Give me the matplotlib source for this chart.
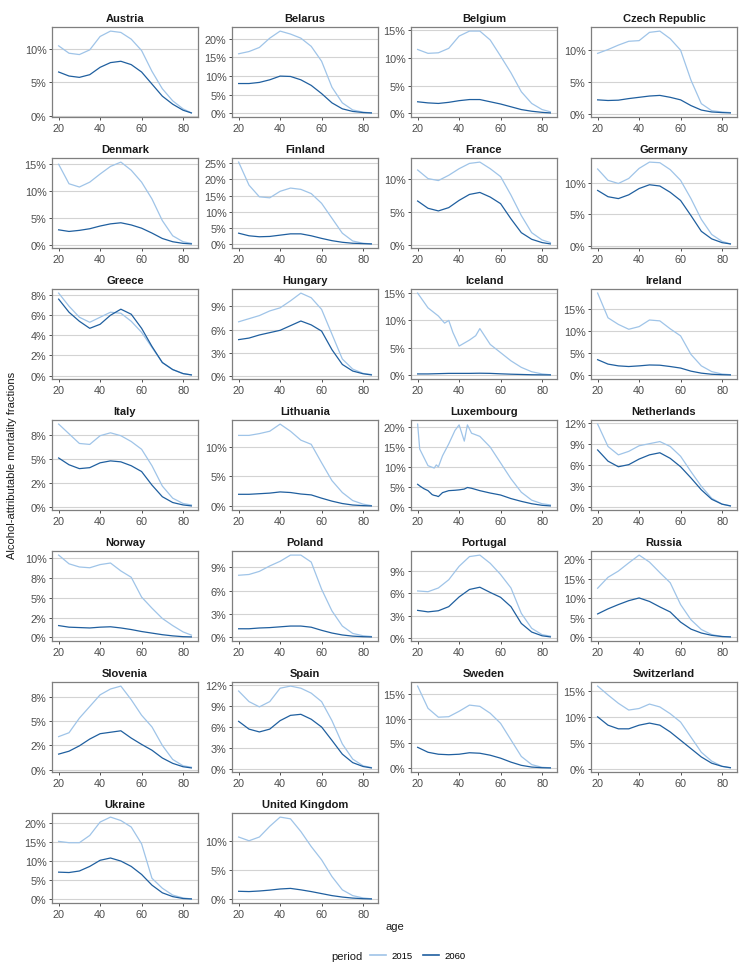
import numpy as np
import matplotlib
matplotlib.use("Agg")
import matplotlib.pyplot as plt
from matplotlib.lines import Line2D
from matplotlib.ticker import FuncFormatter

plt.rcParams['font.family'] = ['Liberation Sans', 'DejaVu Sans']

# age grid shared by most countries
ages = [20, 25, 30, 35, 40, 45, 50, 55, 60, 65, 70, 75, 80, 84]

countries = ["Austria", "Belarus", "Belgium", "Czech Republic", "Denmark", "Finland",
             "France", "Germany", "Greece", "Hungary", "Iceland", "Ireland", "Italy",
             "Lithuania", "Luxembourg", "Netherlands", "Norway", "Poland", "Portugal",
             "Russia", "Slovenia", "Spain", "Sweden", "Switzerland", "Ukraine",
             "United Kingdom"]

# countries with bumpy curves get their own age grid
ages_iceland = [20, 25, 30, 33, 35, 37, 40, 45, 48, 50, 55, 60, 65, 70, 75, 80, 84]
ages_luxembourg = [20, 21, 23, 25, 27, 28, 29, 30, 32, 35, 38, 40, 42.5, 44, 46, 50,
                   55, 60, 65, 70, 75, 80, 84]

# mortality fractions in percent, period 2015
aaf_2015 = {
    "Austria": [10.4, 9.3, 9.1, 9.8, 11.8, 12.6, 12.4, 11.4, 9.7, 6.6, 4.0, 2.2, 1.0, 0.4],
    "Belarus": [16.0, 16.6, 17.7, 20.2, 22.1, 21.3, 20.2, 18.0, 14.0, 7.0, 2.8, 0.9, 0.3, 0.1],
    "Belgium": [11.5, 10.8, 10.9, 11.7, 13.9, 14.8, 14.8, 13.2, 10.3, 7.3, 3.9, 1.8, 0.7, 0.3],
    "Czech Republic": [9.5, 10.1, 10.8, 11.4, 11.5, 12.8, 13.0, 11.8, 10.0, 5.3, 1.6, 0.5, 0.3, 0.2],
    "Denmark": [14.9, 11.3, 10.7, 11.6, 13.1, 14.5, 15.3, 13.8, 11.6, 8.5, 4.5, 1.7, 0.6, 0.3],
    "Finland": [25.3, 18.2, 14.6, 14.3, 16.3, 17.3, 16.9, 15.6, 12.6, 8.0, 3.4, 1.0, 0.3, 0.1],
    "France": [11.4, 10.1, 9.8, 10.6, 11.6, 12.4, 12.6, 11.6, 10.4, 7.6, 4.5, 1.9, 0.8, 0.4],
    "Germany": [12.2, 10.4, 9.9, 10.7, 12.3, 13.3, 13.2, 12.1, 10.4, 7.5, 4.2, 1.8, 0.7, 0.3],
    "Greece": [8.2, 6.9, 5.8, 5.3, 5.8, 6.3, 6.2, 5.4, 4.3, 2.8, 1.3, 0.6, 0.2, 0.07],
    "Hungary": [7.0, 7.4, 7.8, 8.4, 8.8, 9.7, 10.7, 10.1, 8.6, 5.4, 2.2, 0.9, 0.35, 0.2],
    "Iceland": [15.0, 12.3, 10.8, 9.5, 10.0, 7.8, 5.3, 6.4, 7.2, 8.5, 5.6, 4.1, 2.6, 1.4,
                0.6, 0.2, 0.05],
    "Ireland": [18.6, 13.0, 11.5, 10.4, 11.0, 12.5, 12.3, 10.5, 8.9, 4.7, 2.1, 0.8, 0.25, 0.1],
    "Italy": [8.6, 7.6, 6.6, 6.5, 7.4, 7.7, 7.4, 6.8, 6.0, 4.3, 2.2, 0.95, 0.4, 0.25],
    "Lithuania": [11.9, 11.9, 12.2, 12.6, 13.8, 12.6, 11.1, 10.4, 7.3, 4.3, 2.3, 0.95, 0.35, 0.1],
    "Luxembourg": [20.8, 14.5, 12.4, 10.3, 9.9, 9.7, 10.5, 10.0, 12.8, 15.8, 19.2, 20.6,
                   16.5, 20.6, 18.5, 17.7, 15.0, 11.0, 7.0, 3.6, 1.6, 0.7, 0.4],
    "Netherlands": [11.9, 8.7, 7.5, 8.0, 8.8, 9.1, 9.4, 8.7, 7.3, 5.1, 3.0, 1.3, 0.45, 0.2],
    "Norway": [10.4, 9.3, 8.9, 8.8, 9.2, 9.4, 8.4, 7.6, 5.1, 3.7, 2.4, 1.5, 0.7, 0.3],
    "Poland": [8.0, 8.1, 8.5, 9.2, 9.8, 10.6, 10.6, 9.7, 6.2, 3.4, 1.45, 0.5, 0.2, 0.1],
    "Portugal": [6.3, 6.2, 6.7, 7.8, 9.6, 10.9, 11.1, 10.0, 8.5, 6.7, 3.3, 1.3, 0.45, 0.25],
    "Russia": [12.6, 15.4, 17.0, 19.1, 21.1, 19.3, 16.6, 14.0, 8.4, 4.5, 2.0, 0.7, 0.2, 0.1],
    "Slovenia": [3.4, 3.8, 5.3, 6.5, 7.7, 8.3, 8.6, 7.2, 5.6, 4.4, 2.5, 1.05, 0.4, 0.25],
    "Spain": [11.1, 9.6, 8.85, 9.6, 11.5, 11.8, 11.5, 10.8, 9.6, 6.9, 3.6, 1.45, 0.5, 0.25],
    "Sweden": [16.6, 12.1, 10.3, 10.4, 11.5, 12.75, 12.5, 11.1, 9.05, 5.7, 2.35, 0.7, 0.15, 0.05],
    "Switzerland": [15.9, 14.2, 12.6, 11.3, 11.6, 12.45, 11.9, 10.6, 9.0, 6.1, 3.2, 1.5, 0.5, 0.2],
    "Ukraine": [15.15, 14.8, 14.8, 16.7, 20.2, 21.5, 20.6, 18.9, 14.5, 5.5, 2.9, 1.1, 0.35, 0.1],
    "United Kingdom": [10.75, 10.1, 10.75, 12.6, 14.2, 13.9, 11.7, 9.1, 6.8, 3.9, 1.6, 0.6, 0.2, 0.05],
}

# mortality fractions in percent, period 2060
aaf_2060 = {
    "Austria": [6.5, 5.9, 5.7, 6.1, 7.2, 7.9, 8.1, 7.6, 6.5, 4.7, 2.9, 1.7, 0.8, 0.4],
    "Belarus": [8.0, 8.0, 8.3, 9.0, 10.0, 9.9, 9.0, 7.5, 5.3, 2.8, 1.2, 0.5, 0.2, 0.1],
    "Belgium": [2.1, 1.9, 1.8, 2.0, 2.3, 2.5, 2.5, 2.1, 1.7, 1.2, 0.7, 0.4, 0.2, 0.1],
    "Czech Republic": [2.2, 2.1, 2.15, 2.4, 2.6, 2.8, 2.9, 2.6, 2.2, 1.3, 0.6, 0.3, 0.2, 0.15],
    "Denmark": [2.8, 2.5, 2.7, 3.0, 3.5, 3.9, 4.1, 3.7, 3.1, 2.2, 1.2, 0.6, 0.3, 0.2],
    "Finland": [3.4, 2.6, 2.3, 2.4, 2.8, 3.2, 3.2, 2.6, 1.8, 1.1, 0.6, 0.3, 0.2, 0.1],
    "France": [6.7, 5.6, 5.2, 5.7, 6.8, 7.7, 8.0, 7.3, 6.3, 4.0, 1.9, 0.9, 0.4, 0.2],
    "Germany": [8.8, 7.8, 7.5, 8.1, 9.1, 9.7, 9.5, 8.5, 7.2, 4.8, 2.3, 1.1, 0.5, 0.3],
    "Greece": [7.6, 6.3, 5.4, 4.7, 5.1, 6.0, 6.6, 6.1, 4.7, 2.9, 1.3, 0.6, 0.2, 0.07],
    "Hungary": [4.7, 4.9, 5.3, 5.6, 5.9, 6.5, 7.1, 6.6, 5.8, 3.4, 1.5, 0.65, 0.3, 0.15],
    "Iceland": [0.2, 0.2, 0.25, 0.28, 0.3, 0.3, 0.3, 0.3, 0.32, 0.33, 0.3, 0.22, 0.15, 0.1,
                0.05, 0.03, 0.02],
    "Ireland": [3.5, 2.5, 2.1, 1.95, 2.1, 2.3, 2.25, 1.95, 1.6, 0.9, 0.45, 0.2, 0.1, 0.05],
    "Italy": [5.1, 4.4, 4.0, 4.1, 4.6, 4.8, 4.7, 4.3, 3.7, 2.3, 1.1, 0.5, 0.25, 0.15],
    "Lithuania": [2.0, 2.0, 2.1, 2.2, 2.4, 2.3, 2.05, 1.9, 1.35, 0.85, 0.45, 0.2, 0.1, 0.05],
    "Luxembourg": [5.6, 5.2, 4.5, 4.0, 3.0, 2.8, 2.7, 2.5, 3.5, 4.0, 4.1, 4.2, 4.4, 4.8,
                   4.6, 4.0, 3.4, 2.9, 2.0, 1.3, 0.7, 0.3, 0.15],
    "Netherlands": [8.2, 6.6, 5.8, 6.1, 6.9, 7.5, 7.8, 7.0, 5.8, 4.2, 2.5, 1.15, 0.45, 0.2],
    "Norway": [1.5, 1.3, 1.25, 1.2, 1.3, 1.35, 1.2, 1.0, 0.75, 0.55, 0.35, 0.2, 0.1, 0.07],
    "Poland": [1.1, 1.1, 1.2, 1.25, 1.35, 1.45, 1.45, 1.3, 0.9, 0.55, 0.3, 0.15, 0.08, 0.05],
    "Portugal": [3.7, 3.5, 3.65, 4.2, 5.5, 6.5, 6.8, 6.1, 5.45, 4.2, 1.95, 0.8, 0.3, 0.15],
    "Russia": [6.0, 7.3, 8.4, 9.4, 10.1, 9.2, 7.8, 6.5, 3.9, 2.1, 1.1, 0.5, 0.2, 0.1],
    "Slovenia": [1.6, 1.9, 2.45, 3.15, 3.7, 3.85, 4.0, 3.25, 2.6, 2.0, 1.2, 0.65, 0.3, 0.18],
    "Spain": [6.8, 5.7, 5.3, 5.7, 6.9, 7.65, 7.8, 7.1, 6.0, 4.1, 2.15, 0.95, 0.4, 0.2],
    "Sweden": [4.2, 3.2, 2.8, 2.7, 2.8, 3.1, 3.0, 2.6, 2.0, 1.2, 0.55, 0.2, 0.07, 0.03],
    "Switzerland": [10.0, 8.4, 7.7, 7.7, 8.4, 8.8, 8.4, 7.1, 5.5, 3.9, 2.3, 1.1, 0.5, 0.25],
    "Ukraine": [7.1, 7.0, 7.4, 8.6, 10.2, 10.8, 10.0, 8.6, 6.5, 3.7, 1.7, 0.7, 0.2, 0.1],
    "United Kingdom": [1.35, 1.3, 1.4, 1.55, 1.75, 1.85, 1.6, 1.3, 0.95, 0.6, 0.35, 0.17, 0.07, 0.03],
}

# y-axis breaks (percent) per panel, in the order of `countries`
y_breaks = [
    [0, 5, 10], [0, 5, 10, 15, 20], [0, 5, 10, 15], [0, 5, 10],
    [0, 5, 10, 15], [0, 5, 10, 15, 20, 25], [0, 5, 10], [0, 5, 10],
    [0, 2, 4, 6, 8], [0, 3, 6, 9], [0, 5, 10, 15], [0, 5, 10, 15],
    [0, 2.5, 5, 7.5], [0, 5, 10], [0, 5, 10, 15, 20], [0, 3, 6, 9, 12],
    [0, 2.5, 5, 7.5, 10], [0, 3, 6, 9], [0, 3, 6, 9], [0, 5, 10, 15, 20],
    [0, 2.5, 5, 7.5], [0, 3, 6, 9, 12], [0, 5, 10, 15], [0, 5, 10, 15],
    [0, 5, 10, 15, 20], [0, 5, 10],
]

periods = ["2015", "2060"]
colors = {"2015": "#9fc4e8", "2060": "#1f5f9f"}

W, H = 747, 970
fig = plt.figure(figsize=(W / 100, H / 100), dpi=100)

col_left = [52, 232, 411, 591]
pw, ph = 146, 90
row_top0, row_step = 28, 131

pct = FuncFormatter(lambda v, p: "{:.0f}%".format(v))

for i, country in enumerate(countries):
    r, c = divmod(i, 4)
    left = col_left[c]
    top = row_top0 + r * row_step
    ax = fig.add_axes([left / W, 1 - (top + ph) / H, pw / W, ph / H])

    if country == "Iceland":
        x = ages_iceland
    elif country == "Luxembourg":
        x = ages_luxembourg
    else:
        x = ages

    y15 = np.array(aaf_2015[country])
    y60 = np.array(aaf_2060[country])
    ymax = max(y15.max(), y60.max())
    ymin = min(y15.min(), y60.min())
    span = ymax - ymin

    for b in y_breaks[i]:
        ax.axhline(b, color="#d3d3d3", lw=0.8, zorder=0)

    ax.plot(x, y15, color=colors["2015"], lw=0.9, zorder=2, solid_joinstyle="round")
    ax.plot(x, y60, color=colors["2060"], lw=0.9, zorder=3, solid_joinstyle="round")

    ax.set_xlim(16.8, 87.2)
    ax.set_ylim(ymin - 0.05 * span, ymax + 0.05 * span)
    ax.set_xticks([20, 40, 60, 80])
    ax.set_yticks(y_breaks[i])
    ax.yaxis.set_major_formatter(pct)
    ax.tick_params(labelsize=7.8, colors="#333333", length=2.5, width=0.6, pad=1.5,
                   labelcolor="#4d4d4d")
    for s in ax.spines.values():
        s.set_color("#7f7f7f")
        s.set_linewidth(0.9)
    ax.set_title(country, fontsize=8, fontweight="bold", color="#1a1a1a", pad=4)

fig.text(12 / W, 1 - 465 / H, "Alcohol-attributable mortality fractions",
         rotation=90, ha="center", va="center", fontsize=8, color="#1a1a1a")
fig.text(395 / W, 1 - 927 / H, "age", ha="center", va="center", fontsize=8,
         color="#1a1a1a")

# legend
fig.text(363 / W, 1 - 957 / H, "period", ha="right", va="center", fontsize=8,
         color="#1a1a1a")
handles = [Line2D([], [], color=colors[p], lw=1.2) for p in periods]
fig.legend(handles, periods, loc="center left", bbox_to_anchor=(370 / W, 1 - 957 / H),
           ncol=2, frameon=False, fontsize=6.8, handlelength=1.7, handletextpad=0.6,
           columnspacing=1.1, borderaxespad=0, borderpad=0)

fig.savefig("out.png", dpi=100)
